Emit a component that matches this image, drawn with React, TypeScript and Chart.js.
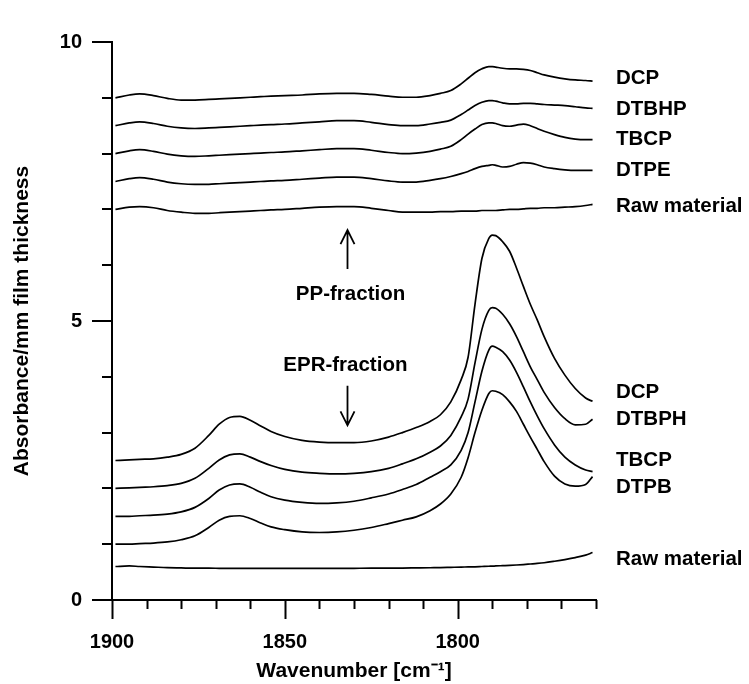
import { useEffect, useRef } from 'react';
import { Chart, registerables } from 'chart.js';

Chart.register(...registerables);

// Wavenumber sample points [cm-1]
const WAVENUMBERS = [
  1899, 1895, 1892, 1888, 1884, 1880, 1876, 1872, 1869, 1866,
  1863, 1860, 1857, 1854, 1850, 1845, 1840, 1835, 1830, 1825,
  1820, 1816, 1812, 1808, 1805, 1802, 1799, 1797, 1795, 1793,
  1791, 1790, 1789, 1787, 1785, 1783, 1781, 1779, 1777, 1775,
  1772, 1769, 1766, 1763, 1761,
];

// PP-fraction spectra (offset)
const PP_DCP = [
  9.00, 9.05, 9.07, 9.04, 8.99, 8.96, 8.96, 8.97, 8.98, 8.99,
  9.00, 9.01, 9.02, 9.03, 9.04, 9.05, 9.07, 9.08, 9.08, 9.06,
  9.03, 9.01, 9.01, 9.04, 9.08, 9.13, 9.25, 9.35, 9.45, 9.52,
  9.56, 9.56, 9.55, 9.53, 9.52, 9.52, 9.51, 9.49, 9.45, 9.41,
  9.37, 9.34, 9.32, 9.31, 9.30,
];
const PP_DTBHP = [
  8.50, 8.55, 8.57, 8.54, 8.49, 8.46, 8.45, 8.46, 8.47, 8.48,
  8.49, 8.50, 8.51, 8.52, 8.53, 8.55, 8.57, 8.59, 8.59, 8.56,
  8.52, 8.50, 8.50, 8.53, 8.56, 8.60, 8.70, 8.78, 8.86, 8.92,
  8.95, 8.95, 8.94, 8.91, 8.89, 8.89, 8.90, 8.90, 8.89, 8.88,
  8.87, 8.86, 8.84, 8.82, 8.81,
];
const PP_TBCP = [
  8.00, 8.05, 8.07, 8.04, 7.99, 7.96, 7.95, 7.96, 7.97, 7.98,
  7.99, 8.00, 8.01, 8.02, 8.03, 8.05, 8.07, 8.09, 8.09, 8.06,
  8.02, 8.00, 8.01, 8.04, 8.08, 8.13, 8.25, 8.35, 8.44, 8.52,
  8.55, 8.55, 8.54, 8.50, 8.49, 8.51, 8.53, 8.50, 8.45, 8.40,
  8.34, 8.29, 8.26, 8.25, 8.25,
];
const PP_DTPE = [
  7.50, 7.55, 7.57, 7.54, 7.49, 7.46, 7.45, 7.45, 7.46, 7.47,
  7.48, 7.49, 7.50, 7.51, 7.52, 7.54, 7.56, 7.58, 7.58, 7.55,
  7.51, 7.49, 7.49, 7.52, 7.55, 7.59, 7.64, 7.68, 7.73, 7.77,
  7.79, 7.80, 7.79, 7.76, 7.77, 7.81, 7.84, 7.83, 7.80, 7.76,
  7.73, 7.71, 7.70, 7.70, 7.70,
];
const PP_RAW = [
  7.00, 7.04, 7.05, 7.03, 6.98, 6.95, 6.93, 6.93, 6.94, 6.95,
  6.96, 6.97, 6.98, 6.99, 7.00, 7.02, 7.04, 7.05, 7.05, 7.02,
  6.98, 6.95, 6.95, 6.95, 6.96, 6.96, 6.97, 6.97, 6.97, 6.98,
  6.98, 6.98, 6.98, 6.99, 7.00, 7.00, 7.01, 7.02, 7.02, 7.03,
  7.03, 7.04, 7.05, 7.07, 7.09,
];

// EPR-fraction spectra (offset)
const EPR_DCP = [
  2.50, 2.51, 2.52, 2.53, 2.56, 2.61, 2.72, 2.95, 3.15, 3.27,
  3.29, 3.22, 3.12, 3.02, 2.93, 2.86, 2.83, 2.82, 2.82, 2.85,
  2.92, 3.00, 3.09, 3.20, 3.32, 3.55, 3.95, 4.35, 5.30, 6.12,
  6.48, 6.54, 6.53, 6.42, 6.25, 5.95, 5.62, 5.30, 5.02, 4.72,
  4.33, 4.03, 3.79, 3.62, 3.56,
];
const EPR_DTBPH = [
  2.00, 2.01, 2.02, 2.03, 2.05, 2.09, 2.18, 2.36, 2.51, 2.60,
  2.62, 2.56, 2.48, 2.41, 2.34, 2.29, 2.27, 2.26, 2.27, 2.30,
  2.36, 2.44, 2.53, 2.65, 2.76, 2.95, 3.28, 3.60, 4.25, 4.85,
  5.19, 5.24, 5.23, 5.12, 4.95, 4.72, 4.45, 4.18, 3.95, 3.72,
  3.45, 3.25, 3.14, 3.15, 3.24,
];
const EPR_TBCP = [
  1.50, 1.50, 1.51, 1.52, 1.54, 1.58, 1.66, 1.82, 1.97, 2.06,
  2.08, 2.02, 1.93, 1.85, 1.79, 1.75, 1.73, 1.74, 1.77, 1.83,
  1.90, 1.98, 2.07, 2.20, 2.30, 2.42, 2.68, 3.00, 3.55, 4.10,
  4.48, 4.55, 4.53, 4.45, 4.30, 4.08, 3.82, 3.55, 3.30, 3.07,
  2.78, 2.56, 2.42, 2.33, 2.30,
];
const EPR_DTPB = [
  1.00, 1.00, 1.01, 1.02, 1.04, 1.08, 1.15, 1.30, 1.43, 1.50,
  1.51, 1.46, 1.38, 1.31, 1.26, 1.22, 1.21, 1.22, 1.25, 1.30,
  1.37, 1.43, 1.49, 1.60, 1.72, 1.90, 2.20, 2.55, 3.00, 3.40,
  3.70, 3.75, 3.74, 3.68, 3.55, 3.38, 3.15, 2.92, 2.70, 2.48,
  2.22, 2.08, 2.04, 2.07, 2.21,
];
const EPR_RAW = [
  0.600, 0.610, 0.600, 0.590, 0.580, 0.575, 0.570, 0.570, 0.568, 0.566,
  0.565, 0.565, 0.565, 0.565, 0.565, 0.565, 0.565, 0.566, 0.568, 0.570,
  0.570, 0.572, 0.575, 0.578, 0.580, 0.585, 0.590, 0.592, 0.595, 0.600,
  0.605, 0.607, 0.610, 0.615, 0.620, 0.627, 0.635, 0.645, 0.655, 0.668,
  0.695, 0.725, 0.760, 0.805, 0.850,
];

// Curve labels (right side) and the absorbance level at which each is written
const PP_LABELS = ['DCP', 'DTBHP', 'TBCP', 'DTPE', 'Raw material'];
const PP_LABEL_LEVELS = [9.34, 8.79, 8.25, 7.70, 7.06];
const EPR_LABELS = ['DCP', 'DTBPH', 'TBCP', 'DTPB', 'Raw material'];
const EPR_LABEL_LEVELS = [3.72, 3.24, 2.51, 2.02, 0.73];

// Axis
const X_MIN = 1760;
const X_MAX = 1900;
const X_MAJOR = [1900, 1850, 1800];
const Y_MIN = 0;
const Y_MAX = 10;
const Y_MAJOR = [0, 5, 10];

const FONT_FAMILY = "'Liberation Sans', Arial, Helvetica, sans-serif";

export default function App() {
  const ref = useRef<HTMLCanvasElement>(null);

  useEffect(() => {
    const canvas = ref.current;
    if (!canvas) return;

    const all = [PP_DCP, PP_DTBHP, PP_TBCP, PP_DTPE, PP_RAW, EPR_DCP, EPR_DTBPH, EPR_TBCP, EPR_DTPB, EPR_RAW];
    const names = [...PP_LABELS.map((l) => 'PP ' + l), ...EPR_LABELS.map((l) => 'EPR ' + l)];

    const decorPlugin = {
      id: 'decor',
      afterDraw(chart: any) {
        const { ctx, chartArea, scales } = chart;
        const xs = scales.x;
        const ys = scales.y;
        ctx.save();
        ctx.strokeStyle = '#000';
        ctx.fillStyle = '#000';
        ctx.lineWidth = 2;
        // x tick marks
        xs.ticks.forEach((t: any) => {
          const px = Math.round(xs.getPixelForValue(t.value)) + 0.5;
          const len = X_MAJOR.includes(t.value) ? 19 : 9;
          ctx.beginPath();
          ctx.moveTo(px, chartArea.bottom);
          ctx.lineTo(px, chartArea.bottom + len);
          ctx.stroke();
        });
        // y tick marks
        ys.ticks.forEach((t: any) => {
          const py = Math.round(ys.getPixelForValue(t.value));
          const len = Y_MAJOR.includes(t.value) ? 20 : 10;
          ctx.beginPath();
          ctx.moveTo(chartArea.left, py);
          ctx.lineTo(chartArea.left - len, py);
          ctx.stroke();
        });

        // right-side labels
        ctx.font = `bold 20.5px ${FONT_FAMILY}`;
        ctx.textAlign = 'left';
        ctx.textBaseline = 'middle';
        const lx = chartArea.right + 20;
        PP_LABELS.forEach((l, i) => ctx.fillText(l, lx, ys.getPixelForValue(PP_LABEL_LEVELS[i])));
        EPR_LABELS.forEach((l, i) => ctx.fillText(l, lx, ys.getPixelForValue(EPR_LABEL_LEVELS[i])));

        // fraction annotations
        ctx.textAlign = 'center';
        ctx.fillText('PP-fraction', xs.getPixelForValue(1831), ys.getPixelForValue(5.48));
        ctx.fillText('EPR-fraction', xs.getPixelForValue(1832.5), ys.getPixelForValue(4.2));

        const arrow = (wn: number, from: number, to: number) => {
          const x = Math.round(xs.getPixelForValue(wn)) + 0.5;
          const y0 = ys.getPixelForValue(from);
          const y1 = ys.getPixelForValue(to);
          const dir = y1 < y0 ? 1 : -1;
          ctx.lineWidth = 1.8;
          ctx.beginPath();
          ctx.moveTo(x, y0);
          ctx.lineTo(x, y1);
          ctx.moveTo(x - 7, y1 + dir * 14);
          ctx.lineTo(x, y1);
          ctx.lineTo(x + 7, y1 + dir * 14);
          ctx.stroke();
        };
        arrow(1832, 5.93, 6.63);
        arrow(1832, 3.84, 3.13);
        ctx.restore();
      },
    };

    const tickFont = { family: FONT_FAMILY, size: 20, weight: 'bold' as const };
    const titleFont = { family: FONT_FAMILY, size: 21, weight: 'bold' as const };

    const chart = new Chart(canvas, {
      type: 'line',
      data: {
        datasets: all.map((vals, i) => ({
          label: names[i],
          data: WAVENUMBERS.map((x, j) => ({ x, y: vals[j] })),
          borderColor: '#000',
          borderWidth: 1.7,
          pointRadius: 0,
          fill: false,
          cubicInterpolationMode: 'monotone' as const,
        })),
      },
      options: {
        responsive: false,
        animation: false,
        events: [],
        layout: { padding: { left: 0, right: 153, top: 22, bottom: 0 } },
        plugins: {
          legend: { display: false },
          tooltip: { enabled: false },
        },
        scales: {
          x: {
            type: 'linear',
            reverse: true,
            min: X_MIN,
            max: X_MAX,
            grid: { display: false, drawTicks: false },
            border: { display: true, color: '#000', width: 2 },
            ticks: {
              stepSize: 10,
              autoSkip: false,
              maxRotation: 0,
              padding: 30,
              color: '#000',
              font: tickFont,
              callback: (v: any) => (X_MAJOR.includes(Number(v)) ? String(v) : ''),
            },
            title: {
              display: true,
              text: 'Wavenumber [cm\u207B\u00B9]',
              color: '#000',
              font: titleFont,
              padding: { top: 0, bottom: 0 },
            },
            afterFit: (s: any) => {
              s.height = 84;
            },
          },
          y: {
            type: 'linear',
            min: Y_MIN,
            max: Y_MAX,
            grid: { display: false, drawTicks: false },
            border: { display: true, color: '#000', width: 2 },
            ticks: {
              stepSize: 1,
              autoSkip: false,
              padding: 30,
              color: '#000',
              font: tickFont,
              callback: (v: any) => (Y_MAJOR.includes(Number(v)) ? String(v) : ''),
            },
            title: {
              display: true,
              text: 'Absorbance/mm film thickness',
              color: '#000',
              font: titleFont,
              padding: { top: 10, bottom: 0 },
            },
            afterFit: (s: any) => {
              s.width = 112;
            },
          },
        },
      },
      plugins: [decorPlugin],
    });

    return () => chart.destroy();
  }, []);

  return (
    <div style={{ position: 'absolute', left: 0, top: 0, width: 749, height: 684, background: '#fff' }}>
      <canvas ref={ref} width={749} height={684} style={{ display: 'block' }} />
    </div>
  );
}
